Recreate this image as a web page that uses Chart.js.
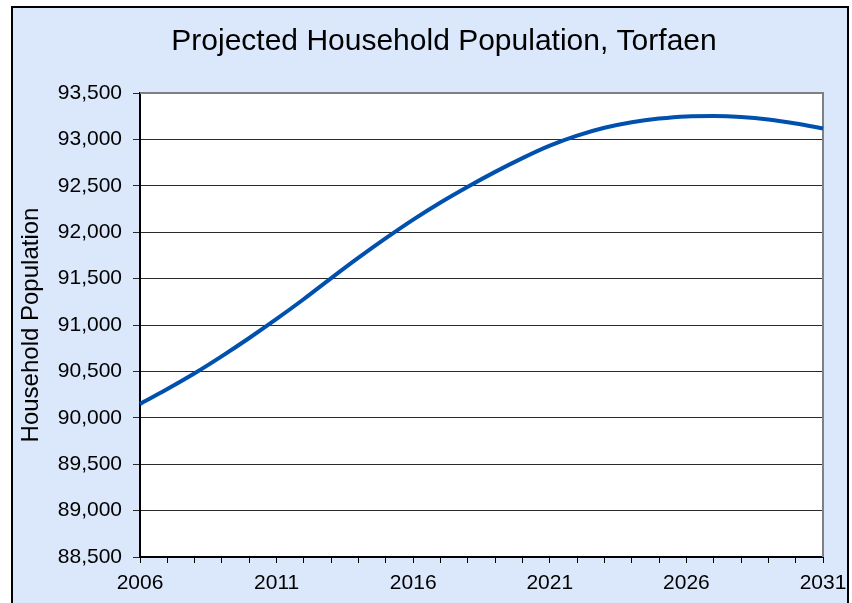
<!DOCTYPE html>
<html>
<head>
<meta charset="utf-8">
<title>Projected Household Population, Torfaen</title>
<script src="https://cdn.jsdelivr.net/npm/chart.js@4/dist/chart.umd.min.js"></script>
<style>
    html, body { margin: 0; padding: 0; background: #fff; }
    #wrap { width: 852px; height: 603px; position: relative; }
</style>
</head>
<body>
<div id="wrap"><canvas id="popChart"></canvas></div>
<script>
// data
var years = ["2006", "2007", "2008", "2009", "2010", "2011", "2012", "2013", "2014", "2015", "2016",
             "2017", "2018", "2019", "2020", "2021", "2022", "2023", "2024", "2025", "2026",
             "2027", "2028", "2029", "2030", "2031"];
var household_pop = [90150, 90310, 90480, 90665, 90860, 91065, 91280, 91505, 91725, 91935, 92135,
                     92320, 92490, 92650, 92798, 92932, 93040, 93125, 93185, 93225, 93248,
                     93252, 93242, 93215, 93172, 93118];
var y_min = 88500;
var y_max = 93500;
var y_step = 500;

var title_text = "Projected Household Population, Torfaen";
var font_family = "'Liberation Sans', Arial, sans-serif";

// outer light blue panel, white plot area, title
var panelPlugin = {
    id: "panel",
    beforeDraw: function(chart) {
        var c = chart.ctx;
        var a = chart.chartArea;
        c.save();
        c.fillStyle = "#ffffff";
        c.fillRect(0, 0, chart.width, chart.height);
        c.fillStyle = "#dbe8fb";
        c.fillRect(12, 7, 836, 610);
        c.strokeStyle = "#000000";
        c.lineWidth = 2;
        c.strokeRect(12, 7, 836, 610);
        c.fillStyle = "#ffffff";
        c.fillRect(a.left, a.top, a.right - a.left, a.bottom - a.top);

        c.fillStyle = "#000000";
        c.font = "30px " + font_family;
        c.textAlign = "center";
        c.textBaseline = "alphabetic";
        c.fillText(title_text, 444, 50);
        c.restore();
    },
    // grey frame on top and right of the plot area
    beforeDatasetsDraw: function(chart) {
        var c = chart.ctx;
        var a = chart.chartArea;
        c.save();
        c.strokeStyle = "#808080";
        c.lineWidth = 2;
        c.beginPath();
        c.moveTo(a.left, a.top);
        c.lineTo(a.right, a.top);
        c.lineTo(a.right, a.bottom);
        c.stroke();
        c.restore();
    }
};

var ctx = document.getElementById("popChart");
var popChart = new Chart(ctx, {
    type: "line",
    data: {
        labels: years,
        datasets: [{
            label: "Household Population",
            data: household_pop,
            borderColor: "#0050ae",
            borderWidth: 4,
            pointRadius: 0,
            fill: false,
            cubicInterpolationMode: "monotone"
        }]
    },
    options: {
        responsive: true,
        maintainAspectRatio: false,
        animation: false,
        layout: {
            padding: { left: 12, right: 29, top: 93, bottom: 0 }
        },
        plugins: {
            legend: { display: false },
            tooltip: { enabled: false },
            title: { display: false }
        },
        scales: {
            x: {
                type: "category",
                offset: false,
                grid: {
                    display: true,
                    drawOnChartArea: false,
                    drawTicks: true,
                    tickLength: 6,
                    color: "#000000",
                    offset: false
                },
                border: { color: "#000000", width: 2 },
                ticks: {
                    autoSkip: false,
                    maxRotation: 0,
                    padding: 8,
                    color: "#000000",
                    font: { family: font_family, size: 21 },
                    callback: function(value, index) {
                        return index % 5 === 0 ? this.getLabelForValue(value) : "";
                    }
                },
                afterFit: function(scale) {
                    scale.height = 46;
                    scale.paddingLeft = 0;   // let layout padding decide the plot edges
                    scale.paddingRight = 0;
                }
            },
            y: {
                min: y_min,
                max: y_max,
                grid: {
                    color: "#2a2a2a",
                    lineWidth: 1,
                    drawTicks: true,
                    tickLength: 7
                },
                border: { color: "#000000", width: 2 },
                ticks: {
                    stepSize: y_step,
                    padding: 11,
                    color: "#000000",
                    font: { family: font_family, size: 21 },
                    callback: function(value) {
                        return value.toLocaleString("en-GB");
                    }
                },
                title: {
                    display: true,
                    text: "Household Population",
                    color: "#000000",
                    font: { family: font_family, size: 24 },
                    padding: { top: 5, bottom: 0 }
                },
                afterFit: function(scale) {
                    scale.width = 128;
                    scale.paddingTop = 0;
                    scale.paddingBottom = 0;
                }
            }
        }
    },
    plugins: [panelPlugin]
});
</script>
</body>
</html>
